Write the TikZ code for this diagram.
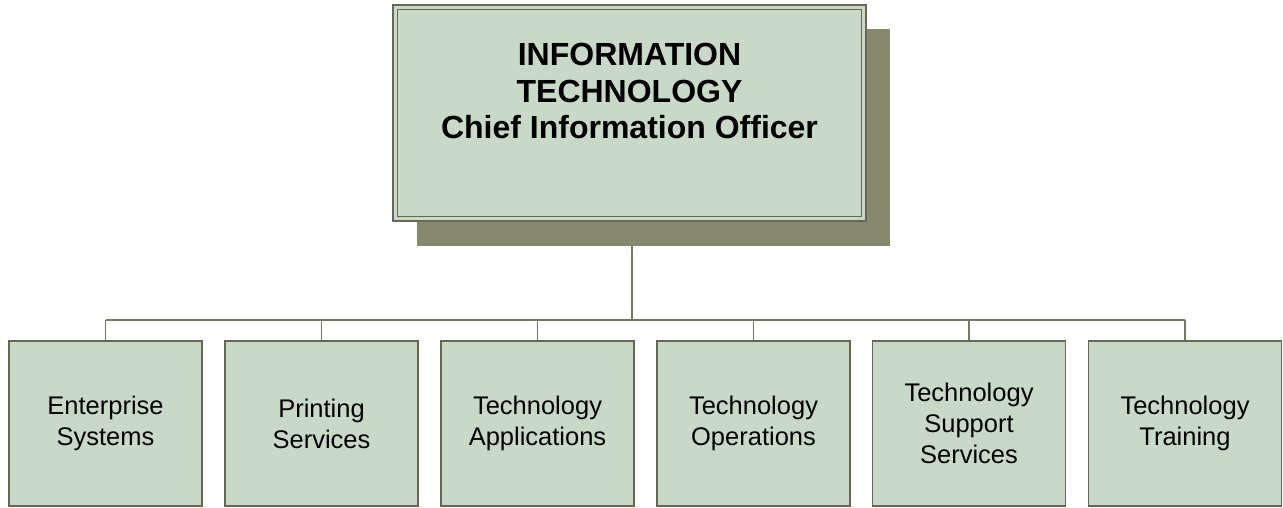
\documentclass[tikz,border=0pt]{standalone}
\usepackage{fontspec}
\usetikzlibrary{calc}
\setmainfont{Liberation Sans}
\definecolor{boxfill}{RGB}{200,218,199}
\definecolor{boxline}{RGB}{102,104,86}
\definecolor{shadowc}{RGB}{134,137,110}
\definecolor{connc}{RGB}{118,120,100}
\begin{document}
\begin{tikzpicture}[x=1pt,y=-1pt,
  unitbox/.style={draw=boxline, line width=1.6pt, fill=boxfill, minimum width=193pt, minimum height=165pt, inner sep=0pt, align=center, font=\fontsize{25.5}{31}\selectfont},
  headbox/.style={draw=boxline, line width=1.4pt, fill=boxfill, minimum width=473pt, minimum height=216pt, inner sep=0pt},
  shadowbox/.style={fill=shadowc, minimum width=473pt, minimum height=217pt, inner sep=0pt},
  conn/.style={draw=connc, line width=1.8pt}]
\useasboundingbox (0,0) rectangle (1283,508);
% shadow and head
\node[shadowbox] (shadow) at (653.5,137.5) {};
\coordinate (bus) at (632,320);
\node[headbox] (head) at (629.5,113) {};
\draw[boxline, line width=1.1pt] ($(head.south west)+(5,-5)$) rectangle ($(head.north east)+(-5,5)$);
\node[align=center, font=\fontsize{32}{36.7}\selectfont\bfseries] (headtext) at (629.5,91) {INFORMATION\\TECHNOLOGY\\Chief Information Officer};
% units
\node[unitbox] (u1) at (105.5,423.5) {Enterprise\\Systems};
\node[unitbox] (u2) at (321.5,423.5) {Printing\\Services};
\node[unitbox] (u3) at (537.5,423.5) {Technology\\Applications};
\node[unitbox] (u4) at (753.5,423.5) {Technology\\Operations};
\node[unitbox] (u5) at (969,423.5) {Technology\\Support\\Services};
\node[unitbox] (u6) at (1185,423.5) {Technology\\Training};
% connectors
\draw[conn] (shadow.south -| bus) -- (bus);
\draw[conn] (u1.north |- bus) -- (u6.north |- bus);
\foreach \u in {u1,u2,u3,u4,u5,u6}{
  \draw[conn] (\u.north |- bus) -- (\u.north);
}
\end{tikzpicture}
\end{document}
